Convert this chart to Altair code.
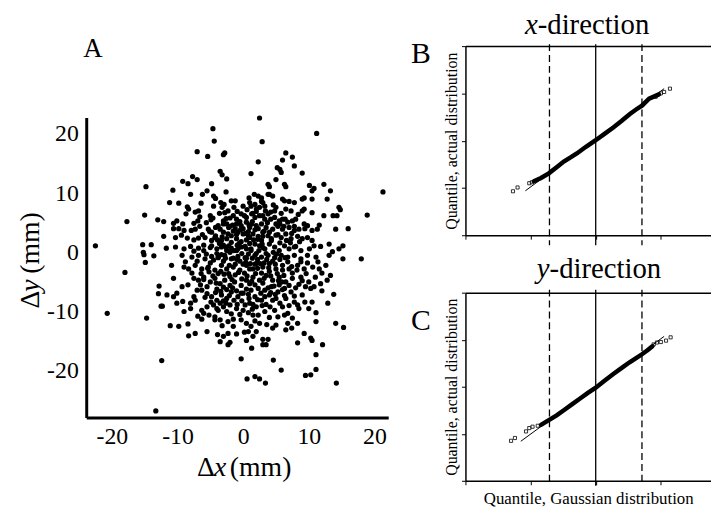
import altair as alt
import pandas as pd

SERIF = "Liberation Serif"

# ---------------- Panel A: displacement scatter (mm)
SCATTER_OUTER = [
    (2.5, 22.7), (-4.6, 20.9), (11.2, 20.1), (-4.4, 18.8), (2.9, 18.7), (-7.0, 17.0), (-5.4, 16.2),
    (-3.0, 16.5), (-2.8, 16.8), (6.5, 16.8), (7.5, 16.1), (6.0, 15.6), (2.3, 15.3), (5.2, 14.3),
    (5.6, 14.0), (7.8, 14.6), (-14.8, 11.1), (-15.0, 6.3), (-17.7, 5.2), (-13.0, 5.5), (-15.3, 1.3),
    (-14.0, 1.3), (-22.5, 1.1), (-15.2, 0.0), (-15.1, -0.4), (-13.6, -0.6), (-14.9, -1.7),
    (-18.0, -3.4), (-12.8, -5.7), (-12.9, -7.0), (-12.5, -9.1), (-20.7, -10.3), (-14.7, -11.1),
    (-12.4, -18.3), (-13.3, -26.8), (21.3, 10.2), (14.8, 7.2), (18.9, 6.3), (14.3, 6.2), (16.0, 4.0),
    (15.2, 1.1), (15.2, -1.1), (18.0, -1.1), (13.6, 0.1), (13.1, 1.4), (15.3, -12.7), (14.1, -12.0),
    (-0.3, -18.0), (4.6, -18.2), (5.8, -19.9), (11.1, -19.8), (9.5, -20.8), (10.3, -20.7),
    (0.6, -21.4), (1.8, -21.0), (2.5, -21.4), (3.4, -22.1), (14.2, -22.1), (1.3, -16.2),
]
SCATTER_UPPER_LEFT = [
    (-3.5, 13.7), (-3.2, 13.1), (-7.7, 12.8), (-7.0, 12.3), (-9.2, 12.0), (-8.4, 11.6), (-4.8, 11.6),
    (1.2, 13.3), (-10.7, 10.5), (-8.0, 9.8), (-6.2, 9.8), (-5.5, 10.4), (-4.5, 9.5), (-4.2, 9.1),
    (-11.2, 8.4), (-9.8, 8.3), (-6.4, 8.3), (-3.4, 8.4), (-2.9, 8.1), (-1.8, 8.7), (-1.2, 8.7),
    (0.9, 9.2), (1.0, 8.4), (-8.5, 7.7), (-8.3, 7.3), (-4.5, 7.8), (-7.3, 6.8), (-6.8, 7.0),
    (-8.7, 6.5), (-5.0, 6.2), (-4.9, 5.5), (-2.8, 6.7), (-2.3, 7.0), (-1.5, 6.2), (-1.0, 5.6),
    (-0.3, 6.5), (0.5, 5.9), (-12.1, 5.2), (-10.6, 4.9), (-10.1, 5.3), (-9.2, 4.8), (-7.5, 4.9),
    (-6.9, 5.3), (-3.0, 5.3), (-2.5, 4.8), (-2.0, 4.4), (-1.0, 4.8), (-0.3, 4.5), (0.5, 5.1),
    (1.0, 4.2), (-10.6, 4.0), (-9.8, 4.0), (-9.0, 3.7), (-7.9, 3.7), (-7.3, 3.9), (-5.3, 3.9),
    (-4.8, 3.4), (-3.5, 3.9), (-3.0, 3.4), (-2.3, 3.1), (-1.5, 3.6), (-0.8, 3.4), (0.0, 3.1),
    (0.8, 3.5), (-12.1, 2.7), (-10.3, 2.5), (-9.4, 2.9), (-8.5, 2.4), (-7.5, 2.1), (-5.8, 2.5),
    (-4.3, 2.5), (-3.3, 2.0), (-2.5, 2.3), (-1.8, 1.7), (-1.0, 2.3), (-0.3, 1.8), (0.5, 2.1),
    (1.0, 2.5), (-11.7, 0.7), (-10.3, 0.9), (-9.0, 0.6), (-8.0, 1.0), (-6.8, 0.7), (-6.0, 0.3),
    (-4.8, 1.1), (-4.0, 0.6), (-3.3, 0.9), (-2.5, 0.3), (-1.8, 0.7), (-1.0, 0.3), (-0.3, 0.9),
    (0.5, 0.6), (1.2, 0.3), (-2.5, 12.4),
]
SCATTER_UPPER_RIGHT = [
    (5.8, 13.5), (9.0, 13.4), (5.0, 12.3), (3.8, 11.5), (4.0, 11.1), (6.3, 11.5), (6.5, 11.1),
    (10.1, 11.3), (12.3, 11.5), (10.5, 10.4), (10.8, 10.8), (13.3, 10.4), (1.7, 9.8), (2.3, 9.5),
    (2.8, 9.2), (4.0, 9.8), (4.5, 9.5), (6.0, 9.0), (6.3, 8.7), (7.8, 8.4), (9.0, 9.0), (9.3, 9.2),
    (10.5, 9.0), (12.8, 9.0), (14.6, 7.6), (3.0, 8.4), (3.3, 7.8), (1.8, 8.1), (2.0, 7.3),
    (2.5, 7.6), (5.0, 7.6), (4.8, 7.0), (6.5, 7.3), (7.3, 7.0), (9.0, 7.0), (9.3, 7.3), (10.5, 6.7),
    (12.3, 6.2), (13.7, 6.2), (1.3, 6.5), (1.8, 5.9), (2.5, 6.2), (3.3, 5.6), (3.8, 6.5), (4.8, 5.9),
    (5.5, 5.3), (6.0, 5.6), (6.8, 5.1), (7.5, 5.3), (8.0, 5.6), (9.3, 4.8), (9.8, 4.5), (10.5, 3.7),
    (11.3, 3.9), (11.6, 4.6), (14.1, 3.9), (1.3, 4.8), (2.0, 4.5), (2.8, 4.8), (3.5, 4.2), (4.5, 3.9),
    (5.3, 4.4), (6.0, 3.9), (7.0, 4.2), (7.8, 3.7), (8.5, 3.9), (1.5, 3.1), (2.3, 2.7), (3.0, 3.4),
    (3.8, 2.8), (4.3, 2.3), (5.0, 2.9), (5.8, 2.5), (6.5, 3.1), (7.3, 2.3), (8.3, 2.7), (9.0, 2.3),
    (9.8, 2.5), (10.5, 2.0), (1.8, 1.4), (2.5, 1.1), (3.3, 0.6), (4.0, 1.4), (4.8, 0.9), (5.5, 0.3),
    (6.3, 1.1), (7.0, 0.6), (7.8, 0.9), (8.8, 0.3), (10.1, 0.6), (10.8, 1.1), (14.6, 0.6),
]
SCATTER_LOWER_LEFT = [
    (-9.3, -0.5), (-7.8, -0.8), (-6.8, -0.5), (-5.8, -1.1), (-4.8, -0.7), (-3.8, -0.9), (-2.8, -0.5),
    (-1.8, -1.1), (-0.8, -0.7), (0.3, -0.9), (-10.9, -2.2), (-9.0, -2.5), (-8.3, -2.8), (-7.3, -2.2),
    (-6.3, -2.8), (-5.3, -2.5), (-4.3, -3.0), (-3.3, -2.2), (-2.5, -2.8), (-1.5, -2.5), (-0.5, -3.0),
    (0.5, -2.2), (1.0, -2.8), (-10.6, -4.4), (-9.3, -5.8), (-7.5, -4.4), (-6.8, -4.7), (-6.0, -4.2),
    (-5.0, -5.0), (-4.3, -4.4), (-3.5, -5.3), (-2.8, -4.7), (-2.0, -5.6), (-1.3, -5.0), (-0.3, -5.6),
    (0.5, -4.7), (1.0, -5.3), (-11.6, -7.2), (-10.6, -7.5), (-10.1, -6.9), (-12.3, -9.1), (-7.5, -7.5),
    (-7.3, -8.1), (-6.3, -6.4), (-5.5, -7.0), (-4.8, -7.5), (-4.0, -8.1), (-3.3, -7.2), (-2.5, -7.8),
    (-1.8, -6.7), (-0.8, -7.5), (0.0, -6.9), (0.9, -7.8), (-10.1, -8.6), (-9.2, -8.3), (-8.0, -8.6),
    (-4.5, -8.9), (-4.0, -9.5), (-3.5, -8.6), (-3.0, -9.2), (-2.0, -8.9), (-1.0, -9.5), (0.3, -8.9),
    (1.0, -8.6), (-9.0, -10.0), (-6.3, -9.8), (-6.0, -10.3), (-4.3, -10.9), (-4.3, -11.4),
    (-3.5, -11.4), (-2.3, -11.7), (-1.5, -11.3), (-0.3, -11.4), (0.5, -12.0), (-11.1, -12.4),
    (-9.8, -12.5), (-8.4, -12.1), (-6.3, -11.3), (-7.3, -13.7), (-8.3, -14.1), (-5.5, -13.4),
    (-3.9, -13.9), (-3.0, -14.2), (-2.3, -13.7), (-3.5, -15.1), (-2.0, -15.2), (-2.3, -15.6),
    (0.5, -14.9), (0.8, -13.4),
]
SCATTER_LOWER_RIGHT = [
    (1.8, -0.5), (2.8, -0.8), (3.8, -0.5), (4.8, -0.9), (5.8, -0.5), (6.8, -0.8), (7.8, -0.5),
    (8.8, -1.1), (9.8, -0.5), (11.1, -0.8), (13.1, -0.5), (2.0, -1.9), (3.0, -2.5), (4.0, -1.9),
    (5.0, -2.8), (6.0, -2.2), (7.0, -2.8), (8.3, -2.2), (9.3, -2.8), (10.6, -2.5), (11.6, -2.8),
    (12.6, -2.2), (1.5, -4.2), (2.5, -4.7), (3.5, -3.9), (4.5, -4.7), (5.5, -4.2), (6.5, -5.0),
    (7.5, -4.4), (8.8, -4.2), (10.0, -5.0), (10.8, -5.8), (11.8, -5.3), (12.8, -4.7), (13.3, -3.9),
    (9.5, -5.8), (10.3, -6.1), (2.3, -6.1), (3.3, -6.4), (4.3, -5.8), (5.3, -6.7), (6.3, -6.1),
    (7.3, -6.7), (8.5, -5.4), (1.8, -7.5), (2.8, -8.1), (4.0, -7.2), (5.0, -7.8), (6.5, -7.8),
    (7.8, -8.4), (8.3, -8.9), (8.5, -9.5), (13.8, -7.1), (10.5, -8.4), (12.9, -8.6), (2.0, -9.2),
    (1.5, -10.6), (2.3, -10.6), (3.3, -10.0), (4.8, -9.8), (5.3, -10.9), (6.3, -10.6), (6.8, -12.0),
    (7.5, -11.1), (8.3, -12.0), (11.1, -10.2), (5.0, -12.3), (11.1, -11.7), (2.0, -13.4),
    (1.5, -14.2), (3.0, -14.7), (3.8, -14.7), (3.5, -15.6), (3.0, -15.6), (8.3, -15.3), (9.3, -13.7),
    (10.3, -14.5), (10.5, -14.9), (12.1, -15.6), (11.1, -17.3), (6.5, -13.1),
]
SCATTER_DENSE_CORE = [
    (-2.0, 0.0), (-0.5, -1.5), (0.8, -0.3), (2.2, -1.2), (3.5, -0.2), (4.5, -1.5), (-3.0, -1.5),
    (-4.0, -0.2), (-1.2, -3.8), (0.2, -3.5), (1.5, -2.8), (2.8, -3.5), (4.0, -3.2), (5.2, -3.6),
    (-2.2, -3.6), (-3.8, -3.6), (-5.0, -1.8), (-0.6, 1.5), (1.0, 1.5), (2.8, 2.0), (-1.8, 2.8),
    (-3.0, 1.2), (0.0, 4.0), (1.8, 3.8), (3.2, 3.6), (-2.5, -6.3), (-1.0, -6.5), (0.5, -6.2),
    (1.8, -5.5), (3.0, -5.2), (4.2, -6.8), (5.5, -5.5), (-4.0, -6.2), (-5.5, -5.8), (-0.2, -8.2),
    (1.5, -8.8), (3.5, -8.8), (-2.5, -10.0), (0.8, -10.2), (-1.2, -2.0), (0.5, -1.0), (1.2, 0.6),
    (-0.8, 0.6), (2.0, -0.2), (3.0, 0.8), (4.6, 0.0), (-2.6, 0.8), (-1.5, -1.0), (0.0, -2.0),
    (1.8, -2.0), (3.2, -1.8), (-3.8, -0.8), (-1.0, 3.0), (0.8, 2.8), (2.2, 2.2), (-2.2, 4.2),
    (-0.5, 5.2), (1.5, 6.6), (-4.2, 2.8), (-6.0, 1.2), (-7.0, -1.5), (-7.8, -3.5), (-6.5, -5.5),
    (-5.2, -3.3), (-3.0, -8.2), (-5.5, -9.2), (6.0, -3.0), (6.8, -1.6), (7.5, -3.5), (8.0, -6.0),
    (6.0, -9.2), (4.0, -11.0), (2.5, -12.0), (0.2, -13.5), (-1.5, -12.5), (-0.5, -10.5),
    (-3.8, 4.5), (-5.6, 5.0), (-6.2, 3.0), (-7.5, 0.2), (0.0, 7.8), (2.8, 8.6), (4.2, 6.8),
    (5.6, 4.8), (7.2, 1.6), (8.8, -1.6), (9.6, -3.6), (11.0, -4.2), (12.0, -6.5), (9.0, -7.2),
    (10.0, -9.5), (12.0, -3.5),
]
SCATTER_DENSE_CORE_2 = [
    (-4.5, -1.3), (-3.3, -0.4), (-2.1, -2.2), (-0.9, -1.2), (0.4, -1.7), (1.4, -1.0), (2.6, -1.9),
    (3.6, -1.2), (4.9, -2.0), (5.6, -1.2), (-4.6, -4.0), (-3.4, -3.2), (-2.0, -4.1), (-0.7, -3.4),
    (0.6, -4.0), (1.9, -3.6), (3.2, -4.4), (4.2, -4.0), (5.4, -4.8), (6.2, -3.9), (-4.2, -6.8),
    (-3.0, -5.9), (-1.6, -6.0), (-0.3, -6.9), (1.2, -6.4), (2.7, -6.9), (3.8, -6.0), (4.9, -7.1),
    (6.0, -6.3), (7.0, -5.6), (-3.8, -9.8), (-2.6, -8.6), (-1.4, -8.1), (0.0, -9.8), (1.4, -9.6),
    (2.9, -9.0), (4.1, -9.2), (5.6, -8.6), (7.0, -9.0), (6.8, -10.3), (-4.8, 2.0), (-3.6, 1.5),
    (-2.2, 1.1), (-0.9, 1.2), (0.3, 1.0), (1.6, 2.1), (2.9, 1.4), (4.3, 2.0), (5.6, 1.6), (6.6, 2.0),
    (-4.2, 4.2), (-3.0, 4.8), (-1.6, 4.6), (-0.4, 3.8), (0.9, 4.6), (2.3, 4.0), (3.7, 5.0), (5.0, 4.8),
    (6.2, 4.4), (7.4, 3.2), (-3.6, 6.6), (-2.0, 5.8), (-0.9, 6.9), (0.6, 7.2), (2.0, 6.9), (3.4, 7.0),
    (4.6, 8.0), (5.8, 6.6), (-5.6, -0.3), (-6.4, -3.6), (-5.8, -7.6), (-5.2, -10.6), (-1.8, -10.4),
    (1.8, -11.6), (3.6, -12.2), (8.2, -3.0), (9.0, -4.8), (7.8, -7.4), (8.0, 1.0), (-6.6, 4.4),
]
SCATTER_DENSE_CORE_3 = [
    (-5.0, 0.8), (-3.9, 2.1), (-2.7, -1.0), (-1.4, 0.3), (-0.2, -0.2), (1.1, -1.9), (2.4, 0.3),
    (3.9, -2.6), (5.1, -0.3), (6.4, -0.9), (-5.4, -2.7), (-4.1, -5.2), (-2.9, -3.7), (-1.7, -4.6),
    (-0.2, -4.5), (1.3, -4.9), (2.2, -2.7), (4.7, -5.7), (5.9, -5.0), (7.4, -2.4), (-6.0, -4.6),
    (-4.9, -8.4), (-3.4, -6.6), (-2.1, -7.3), (-0.9, -8.8), (0.8, -7.1), (2.2, -8.0), (3.3, -7.5),
    (4.5, -8.1), (6.3, -7.3), (-6.8, 2.4), (-5.1, 3.5), (-3.2, 2.6), (-2.6, 5.7), (-1.2, 4.0),
    (0.4, 3.2), (1.4, 5.2), (3.0, 2.7), (4.0, 3.4), (5.3, 3.0), (-4.6, 5.8), (-3.2, 7.6), (-1.4, 7.6),
    (0.2, 6.2), (1.2, 7.8), (3.0, 6.2), (4.2, 5.6), (6.4, 5.6), (7.8, 4.4), (8.6, 1.8), (-7.0, -6.4),
    (-8.4, -5.5), (-8.8, -1.6), (-8.0, -9.5), (-6.9, -10.8), (-3.2, -12.4), (-1.0, -13.8),
    (1.2, -12.5), (4.5, -12.8), (7.4, -12.8), (9.4, -8.4), (9.8, -1.8), (11.4, -1.6), (11.8, 1.0),
    (9.4, 4.0), (8.4, 6.4), (7.0, 8.6), (3.8, 9.8), (-2.6, 10.2), (-6.6, 6.0),
]

A_TICKS = [-20, -10, 0, 10, 20]
A_X_DOMAIN = [-23.9, 22.1]
A_Y_DOMAIN = [-27.9, 22.8]
A_XTITLE = ["Δ", "x", "(mm)"]
A_YTITLE = ["Δ", "y", "(mm)"]
PANEL_LABELS = ["A", "B", "C"]

# ---------------- Panels B, C: normal quantile plots (units of SD)
QQ_X_DOMAIN = [-2.0, 1.77]
QQ_Y_DOMAIN = [-2.0, 2.0]
QQ_X_TICKS = [-2, -1, 0, 1]
QQ_Y_TICKS = [-2, -1, 0, 1, 2]
QQ_CENTER = [0.0]
QQ_QUARTILES = [-0.71, 0.71]
B_TITLE = ["x", "-direction"]
C_TITLE = ["y", "-direction"]
QQ_YTITLE = "Quantile, actual distribution"
QQ_XTITLE = "Quantile, Gaussian distribution"

B_BAND_G = [-0.95, -0.84, -0.72, -0.60, -0.49, -0.38, -0.29, -0.15, 0.0, 0.14, 0.27, 0.40, 0.52, 0.62, 0.71, 0.82, 0.97]
B_BAND_Q = [-0.86, -0.79, -0.69, -0.56, -0.44, -0.35, -0.27, -0.13, 0.01, 0.15, 0.28, 0.42, 0.56, 0.66, 0.74, 0.89, 0.98]
B_TAIL_G = [-1.27, -1.20, -1.02, -0.98, 0.92, 1.00, 1.05, 1.14]
B_TAIL_Q = [-1.07, -0.99, -0.90, -0.88, 0.93, 1.00, 1.03, 1.10]
B_FIT_G = [-1.08, 1.05]
B_FIT_Q = [-1.06, 1.10]

C_BAND_G = [-0.84, -0.72, -0.60, -0.49, -0.36, -0.24, -0.12, 0.0, 0.14, 0.27, 0.40, 0.52, 0.62, 0.71, 0.80, 0.87]
C_BAND_Q = [-0.81, -0.71, -0.61, -0.50, -0.37, -0.25, -0.13, -0.02, 0.13, 0.27, 0.40, 0.52, 0.61, 0.69, 0.78, 0.86]
C_TAIL_G = [-1.30, -1.24, -1.07, -1.02, -0.97, -0.89, 0.89, 0.94, 1.00, 1.08, 1.15]
C_TAIL_Q = [-1.15, -1.09, -0.95, -0.88, -0.85, -0.83, 0.90, 0.94, 0.95, 0.98, 1.05]
C_FIT_G = [-1.15, 1.05]
C_FIT_Q = [-1.16, 1.07]


def label(text, x, y, size, italic=False, align="left", angle=0):
    kw = dict(font=SERIF, fontSize=size, align=align, baseline="alphabetic",
              color="black", fontStyle="italic" if italic else "normal")
    if angle:
        kw["angle"] = angle
    return alt.Chart(pd.DataFrame({"t": [text]})).mark_text(**kw).encode(
        text="t:N", x=alt.value(x), y=alt.value(y))


# ---------------- Panel A
pts = (SCATTER_OUTER + SCATTER_UPPER_LEFT + SCATTER_UPPER_RIGHT + SCATTER_LOWER_LEFT
       + SCATTER_LOWER_RIGHT + SCATTER_DENSE_CORE + SCATTER_DENSE_CORE_2 + SCATTER_DENSE_CORE_3)
dfA = pd.DataFrame({"dx": [p[0] for p in pts], "dy": [p[1] for p in pts]})

axA = dict(values=A_TICKS, title=None, ticks=False, grid=False, domainColor="black", domainWidth=3,
           labelFont=SERIF, labelFontSize=24, labelColor="black", labelOverlap=False, labelFlush=False,
           labelExpr="replace(datum.label, '\u2212', '-')")

scatter = alt.Chart(dfA).mark_circle(size=28, color="black", opacity=1).encode(
    x=alt.X("dx:Q", scale=alt.Scale(domain=A_X_DOMAIN, nice=False, zero=False),
            axis=alt.Axis(labelPadding=7, **axA)),
    y=alt.Y("dy:Q", scale=alt.Scale(domain=A_Y_DOMAIN, nice=False, zero=False),
            axis=alt.Axis(labelPadding=8, **axA)),
)

chartA = alt.layer(
    scatter,
    label(A_XTITLE[0], 112, 362, 28),
    label(A_XTITLE[1], 129, 362, 28, italic=True),
    label(A_XTITLE[2], 145, 362, 28),
    label(A_YTITLE[0], -48, 193, 28, angle=270),
    label(A_YTITLE[1], -48, 176, 28, italic=True, angle=270),
    label(A_YTITLE[2], -48, 158, 28, angle=270),
).properties(width=305, height=303)

spacerA = label(PANEL_LABELS[0], -3, 11, 27).properties(width=305, height=69)
colA = alt.vconcat(spacerA, chartA, spacing=0)


# ---------------- Panels B, C
def qq_panel(band_g, band_q, tail_g, tail_q, fit_g, fit_q, title_parts, title_x, title_y,
             letter, letter_x, letter_y, height, x_title, rule_top, rule_bot):
    xs = alt.Scale(domain=QQ_X_DOMAIN, nice=False, zero=False)
    ys = alt.Scale(domain=QQ_Y_DOMAIN, nice=False, zero=False)
    yaxis = alt.Axis(values=QQ_Y_TICKS, labels=False, ticks=True, tickSize=4, tickColor="black",
                     tickWidth=1, domainColor="black", domainWidth=1.5, grid=False,
                     title=QQ_YTITLE, titleFont=SERIF, titleFontSize=16, titleFontWeight="normal",
                     titleColor="black", titlePadding=2)
    xb = dict(orient="bottom", values=QQ_X_TICKS, labels=False, ticks=True, tickSize=4,
              tickColor="black", tickWidth=1, domainColor="black", domainWidth=1.5, grid=False)
    if x_title:
        xb.update(title=x_title, titleFont=SERIF, titleFontSize=17, titleFontWeight="normal",
                  titleColor="black", titlePadding=5)
    else:
        xb.update(title=None)
    xtop = alt.Axis(orient="top", labels=False, ticks=False, domainColor="black",
                    domainWidth=1.5, grid=False, title=None)

    center = alt.Chart(pd.DataFrame({"g": QQ_CENTER})).mark_rule(color="black", strokeWidth=1.3).encode(
        x=alt.X("g:Q", scale=xs, axis=xtop), y=alt.value(rule_top), y2=alt.value(height + rule_bot))
    quart = alt.Chart(pd.DataFrame({"g": QQ_QUARTILES})).mark_rule(
        color="black", strokeWidth=1.3, strokeDash=[7, 4]).encode(
        x=alt.X("g:Q", scale=xs, axis=None), y=alt.value(rule_top), y2=alt.value(height + rule_bot))
    fit = alt.Chart(pd.DataFrame({"g": fit_g, "q": fit_q})).mark_line(color="black", strokeWidth=1).encode(
        x=alt.X("g:Q", scale=xs, axis=None), y=alt.Y("q:Q", scale=ys, axis=yaxis))
    band = alt.Chart(pd.DataFrame({"g": band_g, "q": band_q})).mark_line(
        color="black", strokeWidth=4.5, strokeCap="round").encode(
        x=alt.X("g:Q", scale=xs, axis=alt.Axis(**xb)), y=alt.Y("q:Q", scale=ys, axis=yaxis))
    tails = alt.Chart(pd.DataFrame({"g": tail_g, "q": tail_q})).mark_point(
        shape="square", filled=False, size=10, color="black", strokeWidth=0.8, opacity=1).encode(
        x=alt.X("g:Q", scale=xs, axis=None), y=alt.Y("q:Q", scale=ys, axis=yaxis))
    return alt.layer(
        center, quart, fit, band, tails,
        label(title_parts[0], title_x, title_y, 29, italic=True, align="right"),
        label(title_parts[1], title_x, title_y, 29),
        label(letter, letter_x, letter_y, 30),
    ).resolve_axis(x="independent").properties(width=248, height=height)


chartB = qq_panel(B_BAND_G, B_BAND_Q, B_TAIL_G, B_TAIL_Q, B_FIT_G, B_FIT_Q, B_TITLE, 73, -12,
                  PANEL_LABELS[1], -55, 17, 191, None, -2, 10)
chartC = qq_panel(C_BAND_G, C_BAND_Q, C_TAIL_G, C_TAIL_Q, C_FIT_G, C_FIT_Q, C_TITLE, 85, -15,
                  PANEL_LABELS[2], -55, 38, 190, QQ_XTITLE, -3, 5)
colBC = alt.vconcat(chartB, chartC, spacing=9)

chart = alt.hconcat(colA, colBC, spacing=23).properties(
    padding={"left": 9, "top": 1, "right": 0, "bottom": 0}, background="white"
).configure_view(strokeWidth=0)

chart.save("out.html", embed_options={"renderer": "svg", "actions": False})
